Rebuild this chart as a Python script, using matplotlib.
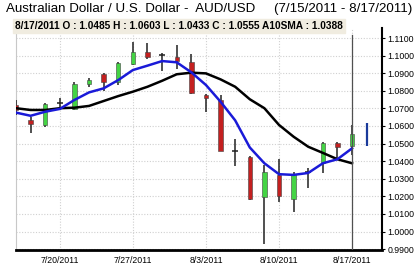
import matplotlib
matplotlib.use('Agg')
import matplotlib.pyplot as plt
from matplotlib.patches import Rectangle

# trading days 7/15/2011 - 8/17/2011
dates = ['7/15', '7/18', '7/19', '7/20', '7/21', '7/22', '7/25', '7/26', '7/27',
         '7/28', '7/29', '8/1', '8/2', '8/3', '8/4', '8/5', '8/8', '8/9', '8/10',
         '8/11', '8/12', '8/15', '8/16', '8/17']
opens = [1.0720, 1.0634, 1.0606, 1.0733, 1.0695, 1.0839, 1.0895, 1.0852, 1.0951,
         1.1019, 1.1003, 1.0990, 1.0965, 1.0774, 1.0748, 1.0460, 1.0422, 1.0195,
         1.0322, 1.0183, 1.0340, 1.0388, 1.0505, 1.0485]
highs = [1.0745, 1.0653, 1.0732, 1.0757, 1.0852, 1.0871, 1.0899, 1.0962, 1.1076,
         1.1070, 1.1013, 1.1060, 1.1007, 1.0780, 1.0776, 1.0524, 1.0430, 1.0378,
         1.0411, 1.0340, 1.0360, 1.0507, 1.0511, 1.0603]
lows = [1.0665, 1.0562, 1.0596, 1.0691, 1.0691, 1.0820, 1.0799, 1.0833, 1.0947,
        1.0981, 1.0913, 1.0922, 1.0780, 1.0678, 1.0458, 1.0374, 1.0180, 0.9930,
        1.0170, 1.0113, 1.0249, 1.0331, 1.0417, 1.0433]
closes = [1.0690, 1.0610, 1.0723, 1.0733, 1.0839, 1.0861, 1.0852, 1.0956, 1.1022,
          1.0994, 1.1003, 1.0969, 1.0786, 1.0761, 1.0460, 1.0460, 1.0183, 1.0340,
          1.0204, 1.0327, 1.0340, 1.0502, 1.0482, 1.0555]
fast_ma = [1.0676, 1.0658, 1.0681, 1.0697, 1.0748, 1.0791, 1.0814, 1.0861, 1.0918,
           1.0943, 1.0969, 1.0962, 1.0905, 1.0833, 1.0738, 1.0632, 1.0478, 1.0388,
           1.0326, 1.0322, 1.0333, 1.0388, 1.0411, 1.0473]
sma10 = [1.0701, 1.0691, 1.0691, 1.0701, 1.0704, 1.0714, 1.0742, 1.0770, 1.0795,
         1.0823, 1.0857, 1.0894, 1.0903, 1.0899, 1.0865, 1.0823, 1.0752, 1.0701,
         1.0606, 1.0539, 1.0482, 1.0447, 1.0411, 1.0388]
last_bar = (1.0486, 1.0615)

tick_idx = [3, 8, 13, 18, 23]
tick_labels = ['7/20/2011', '7/27/2011', '8/3/2011', '8/10/2011', '8/17/2011']
y_ticks = [0.99 + 0.01 * i for i in range(13)]

W, H = 417, 266
fig = plt.figure(figsize=(W / 100, H / 100), dpi=100)
plt.rcParams['font.family'] = ['Liberation Sans', 'DejaVu Sans']

ax = fig.add_axes([16 / W, 16 / H, 366 / W, 222 / H])
ax.set_xlim(0, 25.05)
ax.set_ylim(0.9895, 1.1157)

ax.set_yticks(y_ticks)
ax.set_yticklabels([f'{v:.4f}' for v in y_ticks])
ax.set_xticks(tick_idx)
ax.set_xticklabels(tick_labels)
ax.yaxis.tick_right()
ax.tick_params(axis='y', length=2, pad=2, labelsize=6.3, colors='black')
ax.tick_params(axis='x', length=0, pad=4, labelsize=6.3)
ax.grid(True, color='#d0d0d0', linestyle=(0, (1, 1.5)), linewidth=0.8)
ax.set_axisbelow(True)

ax.spines['top'].set_visible(False)
ax.spines['left'].set_color('#c8c8c8')
ax.spines['right'].set_linewidth(1.5)
ax.spines['bottom'].set_linewidth(2)

# candles
bw = 0.3
for i in range(len(dates)):
    o, h, l, c = opens[i], highs[i], lows[i], closes[i]
    ax.vlines(i, l, h, color='#202020', linewidth=1.1, zorder=3)
    if abs(c - o) < 0.0004:
        ax.hlines(o, i - 0.2, i + 0.2, color='#202020', linewidth=1.1, zorder=3)
        continue
    col = '#44d444' if c > o else '#c42020'
    ax.add_patch(Rectangle((i - bw / 2, min(o, c)), bw, abs(c - o),
                           facecolor=col, edgecolor='#404040', linewidth=0.4, zorder=4))

x = list(range(len(dates)))
ax.plot(x, sma10, color='black', linewidth=1.8, zorder=5)
ax.plot(x, fast_ma, color='#1a1ad8', linewidth=1.8, zorder=6)

# cursor line and live bar
ax.axvline(23, ymax=0.97, color='#505050', linewidth=0.9, zorder=7)
ax.vlines(24, last_bar[0], last_bar[1], color='#1a3a9a', linewidth=1.6, zorder=5)

fig.text(6 / W, 1 - 9 / H,
         'Australian Dollar / U.S. Dollar -  AUD/USD     (7/15/2011 - 8/17/2011)',
         fontsize=9.65, va='center', ha='left')
fig.text(15 / W, 1 - 26 / H,
         '8/17/2011 O : 1.0485 H : 1.0603 L : 1.0433 C : 1.0555 A10SMA : 1.0388',
         fontsize=7.3, fontweight='bold', va='center', ha='left',
         bbox=dict(boxstyle='square,pad=0.2', facecolor='#f0ece0', edgecolor='#f0ece0'))

fig.savefig('out.png', dpi=100)
